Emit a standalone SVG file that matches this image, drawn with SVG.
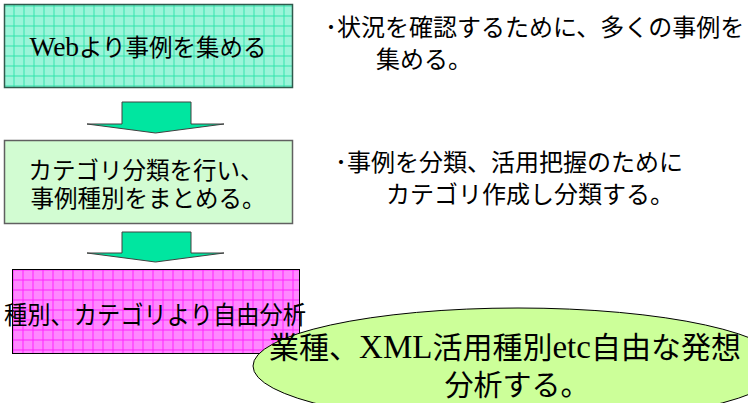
<svg xmlns="http://www.w3.org/2000/svg" width="748" height="403" viewBox="0 0 748 403">
  <style>
    .jp { font-family: "Noto Sans CJK JP", "Noto Sans", sans-serif; fill: #000; }
    .mix { font-family: "Liberation Serif", "Noto Sans CJK JP", serif; fill: #000; }
    .lat { font-family: "Liberation Serif", serif; }
    .arrow { fill: #00e6a0; stroke: #404040; stroke-width: 1; }
  </style>
  <defs>
    <pattern id="gridTeal" x="3.5" y="5.5" width="10" height="10" patternUnits="userSpaceOnUse">
      <rect width="10" height="10" fill="#9bf4d9"/>
      <path d="M0 0.5H10M0.5 0V10" stroke="#33e3ac" stroke-width="1"/>
    </pattern>
    <pattern id="gridPink" x="12.5" y="269.5" width="10" height="10" patternUnits="userSpaceOnUse">
      <rect width="10" height="10" fill="#ff88ff"/>
      <path d="M0 0.5H10M0.5 0V10" stroke="#ff22ff" stroke-width="1"/>
    </pattern>
  </defs>

  <g id="connectors">
    <polygon class="arrow" points="122,102 191,102 191,124 224,124 155.5,133 87,124 122,124"/>
    <polygon class="arrow" points="122,232 191,232 191,253 224,253 155.5,262 87,253 122,253"/>
  </g>

  <g id="node-collect">
    <rect x="4.5" y="4.5" width="288" height="83" fill="url(#gridTeal)" stroke="#2f5a4c" stroke-width="1.5"/>
    <text class="jp" x="148" y="56" font-size="23.5" text-anchor="middle"><tspan class="lat" font-size="27.5">Web</tspan>より事例を集める</text>
  </g>

  <g id="node-classify">
    <rect x="4.5" y="140.5" width="288" height="83" fill="#d2fcd2" stroke="#606060" stroke-width="1.5"/>
    <text class="jp" x="146" y="179" font-size="23.5" text-anchor="middle">カテゴリ分類を行い、</text>
    <text class="jp" x="148" y="207" font-size="23.5" text-anchor="middle">事例種別をまとめる。</text>
  </g>

  <g id="node-analyze">
    <rect x="12.5" y="269.5" width="287" height="84" fill="url(#gridPink)" stroke="#000" stroke-width="1"/>
    <text class="jp" x="155" y="324" font-size="25" text-anchor="middle" textLength="302" lengthAdjust="spacingAndGlyphs">種別、カテゴリより自由分析</text>
  </g>

  <g id="node-idea">
    <ellipse cx="518" cy="366" rx="265" ry="58" fill="#ccff99" stroke="#000" stroke-width="1"/>
    <text class="jp" x="505" y="358" font-size="30" text-anchor="middle">業種、<tspan class="lat" font-size="33">XML</tspan>活用種別<tspan class="lat" font-size="33">etc</tspan>自由な発想</text>
    <text class="jp" x="517" y="396" font-size="29" text-anchor="middle">分析する。</text>
  </g>

  <g id="note-1">
    <text class="jp" x="325" y="36" font-size="24">･状況を確認するために、多くの事例を</text>
    <text class="jp" x="376" y="68" font-size="24">集める。</text>
  </g>

  <g id="note-2">
    <text class="jp" x="335" y="171" font-size="24">･事例を分類、活用把握のために</text>
    <text class="jp" x="386" y="203" font-size="24">カテゴリ作成し分類する。</text>
  </g>
</svg>
